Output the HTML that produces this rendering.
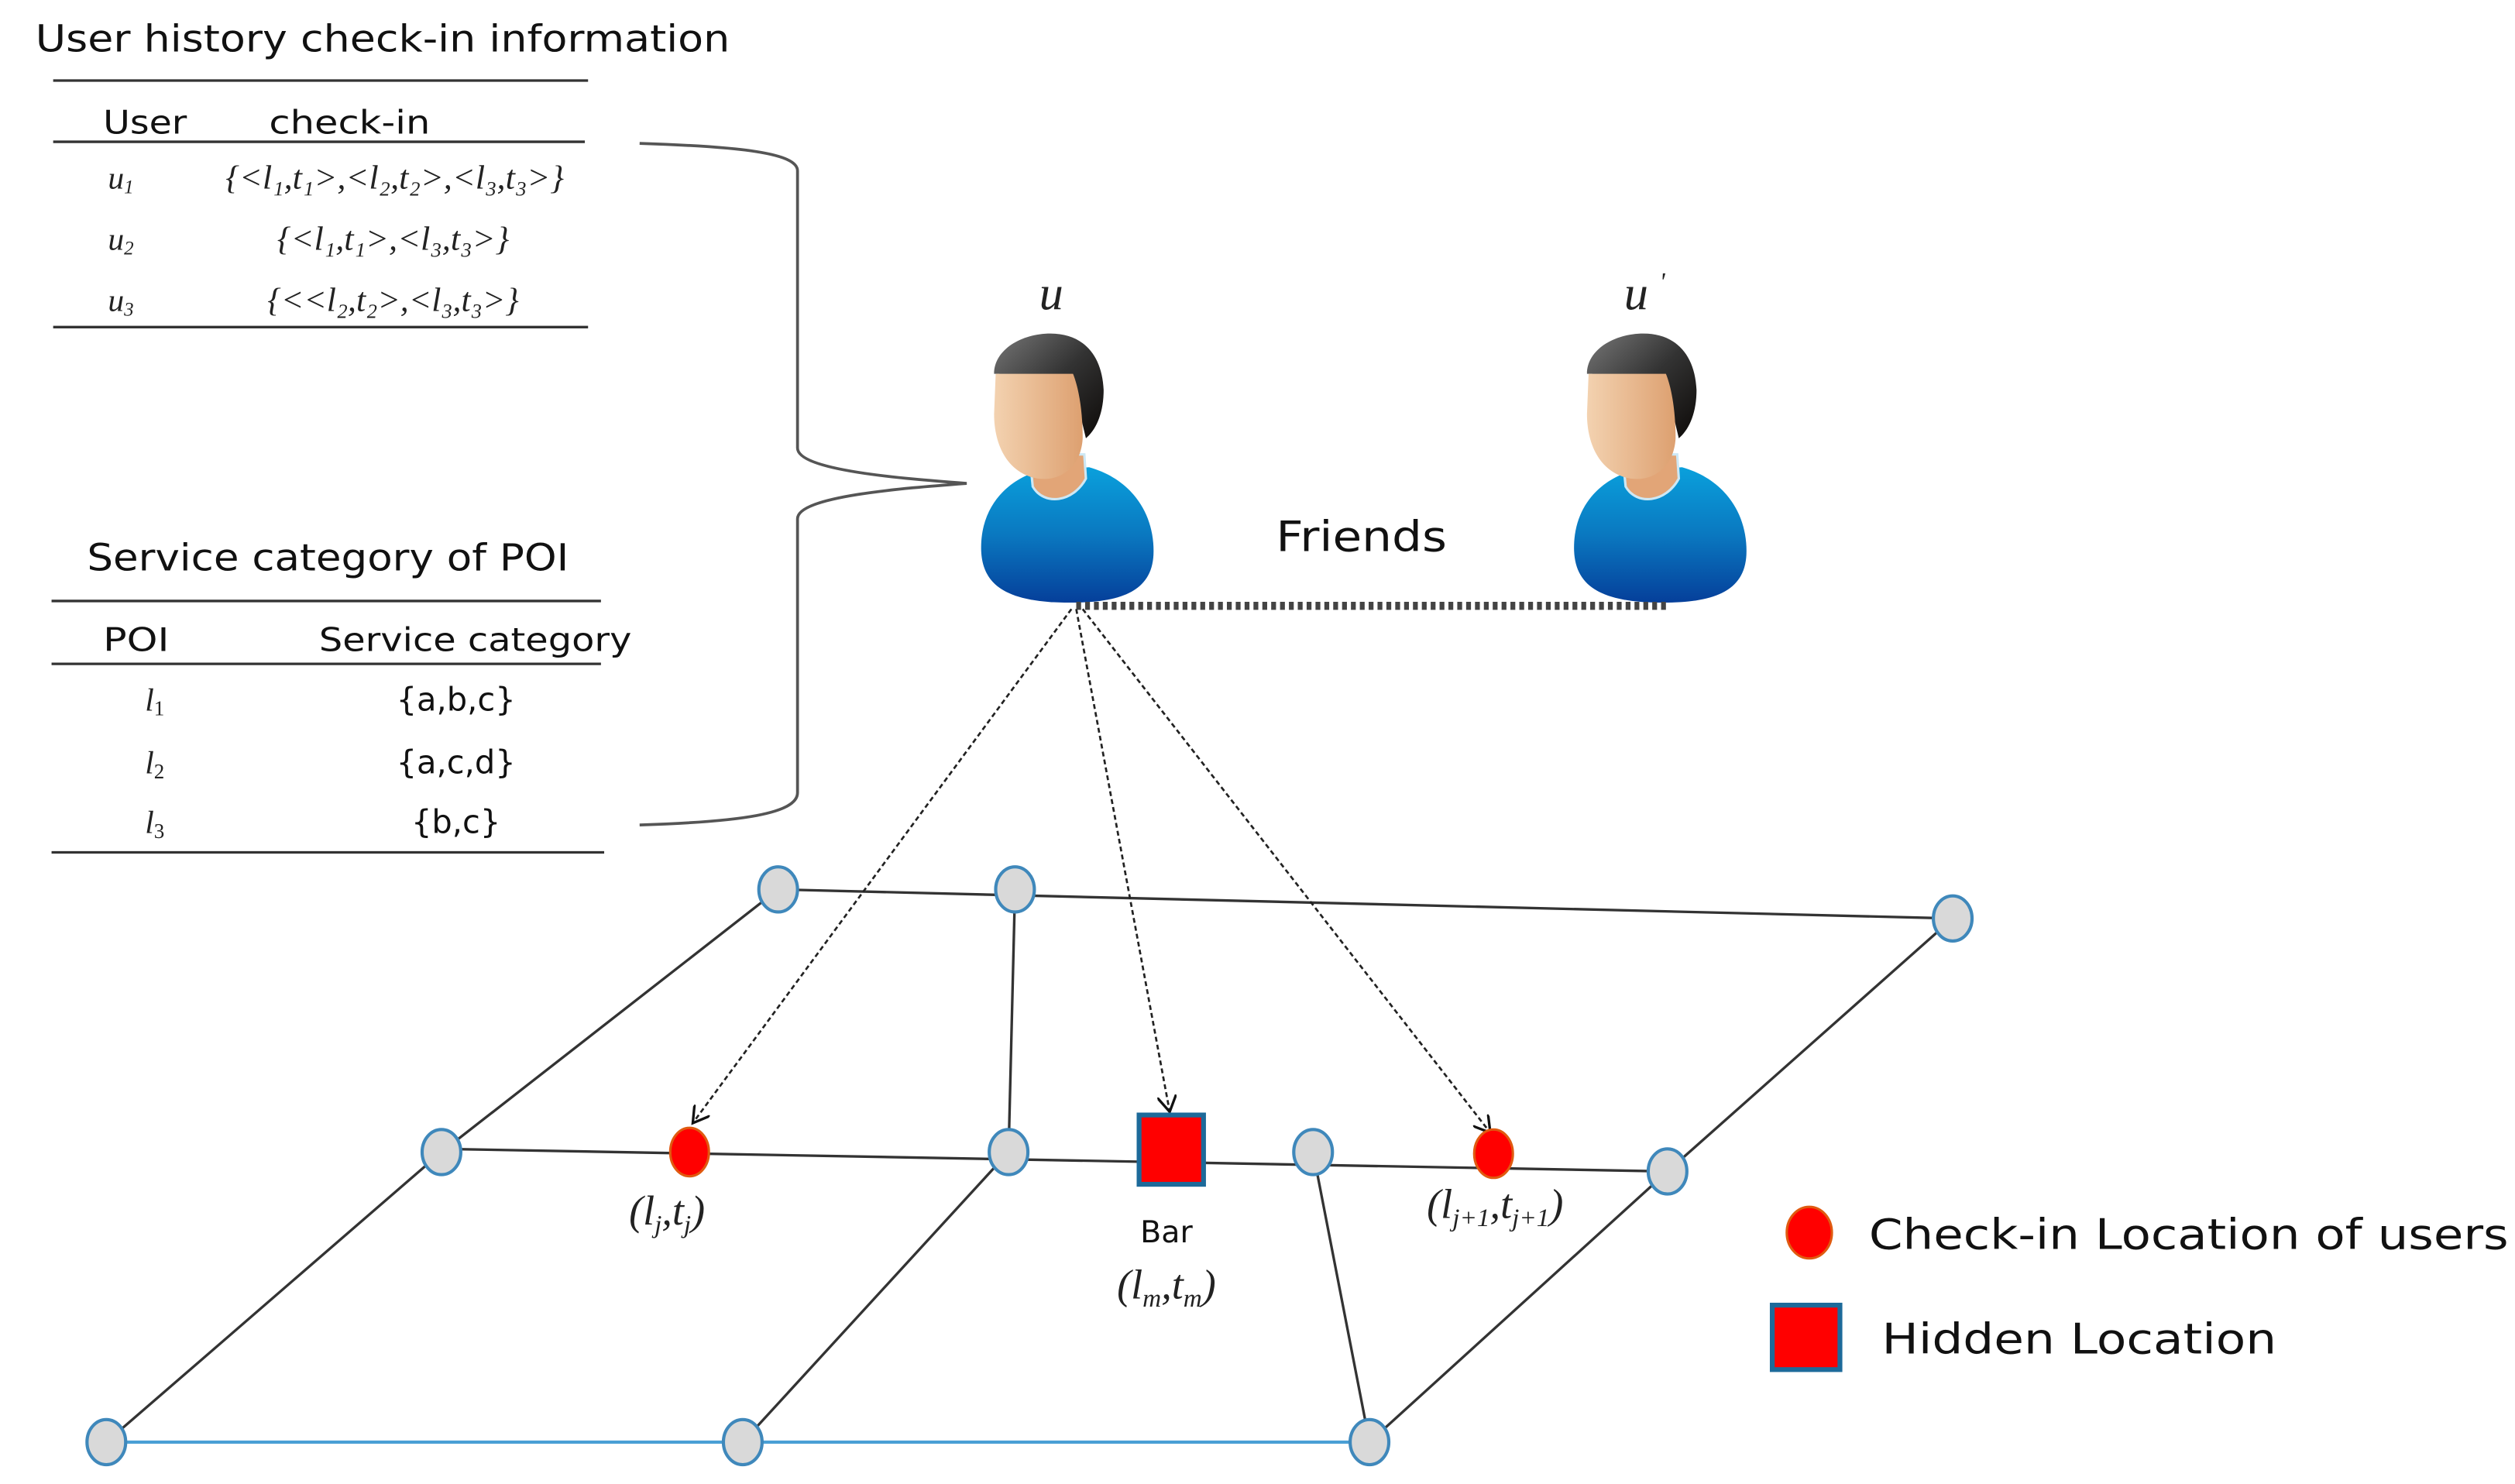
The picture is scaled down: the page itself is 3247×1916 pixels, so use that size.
<!DOCTYPE html>
<html><head><meta charset="utf-8"><style>
html,body{margin:0;padding:0;background:#fff;}
svg{display:block}
.s{font-family:"DejaVu Sans","Liberation Sans",sans-serif;fill:#111}
.m{font-family:"Liberation Serif",serif;font-style:italic;fill:#222}
</style></head><body>
<svg width="3247" height="1916" viewBox="0 0 1561 921" preserveAspectRatio="none" xmlns="http://www.w3.org/2000/svg">
<defs>
<linearGradient id="face" x1="0" x2="1" y1="0" y2="0"><stop offset="0" stop-color="#f3d2b0"/><stop offset="1" stop-color="#dda070"/></linearGradient>
<linearGradient id="hair" x1="0" x2="1" y1="0" y2="1"><stop offset="0" stop-color="#777"/><stop offset="0.5" stop-color="#333"/><stop offset="1" stop-color="#0d0a08"/></linearGradient>
<linearGradient id="body" x1="0" x2="0" y1="0" y2="1"><stop offset="0" stop-color="#0aa0dc"/><stop offset="0.5" stop-color="#0a78c0"/><stop offset="1" stop-color="#053f9a"/></linearGradient>
<g id="person">
<path d="M3,140 C2,112 20,95 40,90 L70,88 C95,95 110,115 110,140 C110,165 90,172 58,172 C20,172 4,162 3,140 Z" fill="url(#body)"/>
<path d="M33,80 L67,80 L68,95 C60,110 42,112 35,100 Z" fill="#e2a577" stroke="#cde8f5" stroke-width="1.5"/>
<path d="M11,30 C11,15 28,5 46,5 C66,5 78,18 79,40 C79,55 74,65 68,70 L62,45 L14,30 Z" fill="url(#hair)"/>
<path d="M12,30 L60,30 C64,40 66,55 66,70 C65,88 52,97 38,95 C20,92 11,75 11,55 Z" fill="url(#face)"/>
</g>
<marker id="ah" markerWidth="12" markerHeight="12" refX="10" refY="6" orient="auto" markerUnits="userSpaceOnUse"><path d="M0,0 L10,6 L0,12" fill="none" stroke="#111" stroke-width="1.6"/></marker>
</defs>

<!-- table 1 -->
<text x="22" y="32" class="s" font-size="23" textLength="431" lengthAdjust="spacingAndGlyphs">User history check-in information</text>
<line x1="33" y1="50" x2="365" y2="50" stroke="#333" stroke-width="1.6"/>
<text x="64" y="83" class="s" font-size="20" textLength="52" lengthAdjust="spacingAndGlyphs">User</text>
<text x="167" y="83" class="s" font-size="20" textLength="100" lengthAdjust="spacingAndGlyphs">check-in</text>
<line x1="33" y1="88" x2="363" y2="88" stroke="#333" stroke-width="1.6"/>
<text x="67" y="117" class="m" font-size="20">u<tspan font-size="12" dy="3">1</tspan></text>
<text x="67" y="155" class="m" font-size="20">u<tspan font-size="12" dy="3">2</tspan></text>
<text x="67" y="193" class="m" font-size="20">u<tspan font-size="12" dy="3">3</tspan></text>
<text x="140" y="117" class="m" font-size="21" font-style="normal" textLength="210" lengthAdjust="spacingAndGlyphs">{&lt;<tspan font-style="italic">l</tspan>₁,<tspan font-style="italic">t</tspan>₁&gt;,&lt;<tspan font-style="italic">l</tspan>₂,<tspan font-style="italic">t</tspan>₂&gt;,&lt;<tspan font-style="italic">l</tspan>₃,<tspan font-style="italic">t</tspan>₃&gt;}</text>
<text x="172" y="155" class="m" font-size="21" font-style="normal" textLength="144" lengthAdjust="spacingAndGlyphs">{&lt;<tspan font-style="italic">l</tspan>₁,<tspan font-style="italic">t</tspan>₁&gt;,&lt;<tspan font-style="italic">l</tspan>₃,<tspan font-style="italic">t</tspan>₃&gt;}</text>
<text x="166" y="193" class="m" font-size="21" font-style="normal" textLength="156" lengthAdjust="spacingAndGlyphs">{&lt;&lt;<tspan font-style="italic">l</tspan>₂,<tspan font-style="italic">t</tspan>₂&gt;,&lt;<tspan font-style="italic">l</tspan>₃,<tspan font-style="italic">t</tspan>₃&gt;}</text>
<line x1="33" y1="203" x2="365" y2="203" stroke="#333" stroke-width="1.6"/>

<!-- table 2 -->
<text x="54" y="354" class="s" font-size="23" textLength="299" lengthAdjust="spacingAndGlyphs">Service category of POI</text>
<line x1="32" y1="373" x2="373" y2="373" stroke="#333" stroke-width="1.6"/>
<text x="64" y="404" class="s" font-size="20" textLength="41" lengthAdjust="spacingAndGlyphs">POI</text>
<text x="198" y="404" class="s" font-size="20" textLength="194" lengthAdjust="spacingAndGlyphs">Service category</text>
<line x1="32" y1="412" x2="373" y2="412" stroke="#333" stroke-width="1.6"/>
<text x="90" y="441" class="m" font-size="20">l<tspan font-size="13" dy="3" font-style="normal">1</tspan></text>
<text x="90" y="480" class="m" font-size="20">l<tspan font-size="13" dy="3" font-style="normal">2</tspan></text>
<text x="90" y="517" class="m" font-size="20">l<tspan font-size="13" dy="3" font-style="normal">3</tspan></text>
<text x="283" y="441" class="s" font-size="20" text-anchor="middle">{a,b,c}</text>
<text x="283" y="480" class="s" font-size="20" text-anchor="middle">{a,c,d}</text>
<text x="283" y="517" class="s" font-size="20" text-anchor="middle">{b,c}</text>
<line x1="32" y1="529" x2="375" y2="529" stroke="#333" stroke-width="1.6"/>

<!-- brace -->
<path d="M397,89 C460,91 495,95 495,106 L495,278 C495,292 560,297 600,300 C560,303 495,308 495,322 L495,492 C495,505 460,510 397,512" fill="none" stroke="#555" stroke-width="1.8"/>

<!-- persons -->
<text x="645" y="192" class="m" font-size="30">u</text>
<text x="1008" y="192" class="m" font-size="30">u</text>
<text x="1030" y="180" class="m" font-size="16">'</text>
<use href="#person" x="606" y="202"/>
<use href="#person" x="974" y="202"/>
<text x="792" y="342" class="s" font-size="26" textLength="106" lengthAdjust="spacingAndGlyphs">Friends</text>
<line x1="668" y1="376" x2="1035" y2="376" stroke="#444" stroke-width="5" stroke-dasharray="3,2.5"/>

<!-- grid lines -->
<g stroke="#333" stroke-width="1.6" fill="none">
<line x1="483" y1="552" x2="1212" y2="570"/>
<line x1="274" y1="713" x2="1035" y2="727"/>
<line x1="483" y1="552" x2="274" y2="715"/>
<line x1="274" y1="715" x2="66" y2="895"/>
<line x1="630" y1="552" x2="626" y2="715"/>
<line x1="626" y1="715" x2="461" y2="895"/>
<line x1="815" y1="715" x2="850" y2="895"/>
<line x1="1212" y1="570" x2="1035" y2="727"/>
<line x1="1035" y1="727" x2="850" y2="895"/>
</g>
<line x1="66" y1="895" x2="850" y2="895" stroke="#4a9fd5" stroke-width="2"/>

<!-- arrows -->
<g stroke="#222" stroke-width="1.3" stroke-dasharray="3,2" fill="none" marker-end="url(#ah)">
<line x1="665" y1="378" x2="430" y2="697"/>
<line x1="668" y1="378" x2="726" y2="690"/>
<line x1="672" y1="378" x2="925" y2="703"/>
</g>

<!-- nodes -->
<g fill="#d9d9d9" stroke="#3f88bb" stroke-width="2">
<ellipse cx="483" cy="552" rx="12" ry="14"/>
<ellipse cx="630" cy="552" rx="12" ry="14"/>
<ellipse cx="1212" cy="570" rx="12" ry="14"/>
<ellipse cx="274" cy="715" rx="12" ry="14"/>
<ellipse cx="626" cy="715" rx="12" ry="14"/>
<ellipse cx="815" cy="715" rx="12" ry="14"/>
<ellipse cx="1035" cy="727" rx="12" ry="14"/>
<ellipse cx="66" cy="895" rx="12" ry="14"/>
<ellipse cx="461" cy="895" rx="12" ry="14"/>
<ellipse cx="850" cy="895" rx="12" ry="14"/>
</g>
<ellipse cx="428" cy="715" rx="12" ry="15" fill="#f00" stroke="#e05a10" stroke-width="1.5"/>
<ellipse cx="927" cy="716" rx="12" ry="15" fill="#f00" stroke="#e05a10" stroke-width="1.5"/>
<rect x="707" y="692" width="40" height="43" fill="#f00" stroke="#1d6a9a" stroke-width="3"/>

<!-- labels -->
<text x="414" y="760" class="m" font-size="26" text-anchor="middle">(l<tspan font-size="16" dy="5">j</tspan><tspan dy="-5">,t</tspan><tspan font-size="16" dy="5">j</tspan><tspan dy="-5">)</tspan></text>
<text x="724" y="771" class="s" font-size="19" text-anchor="middle">Bar</text>
<text x="724" y="806" class="m" font-size="26" text-anchor="middle">(l<tspan font-size="16" dy="5">m</tspan><tspan dy="-5">,t</tspan><tspan font-size="16" dy="5">m</tspan><tspan dy="-5">)</tspan></text>
<text x="928" y="756" class="m" font-size="26" text-anchor="middle">(l<tspan font-size="16" dy="5">j+1</tspan><tspan dy="-5">,t</tspan><tspan font-size="16" dy="5">j+1</tspan><tspan dy="-5">)</tspan></text>

<!-- legend -->
<ellipse cx="1123" cy="765" rx="14" ry="16" fill="#f00" stroke="#e05a10" stroke-width="1.5"/>
<text x="1160" y="775" class="s" font-size="26" textLength="397" lengthAdjust="spacingAndGlyphs">Check-in Location of users</text>
<rect x="1100" y="810" width="42" height="40" fill="#f00" stroke="#1d6a9a" stroke-width="3"/>
<text x="1168" y="840" class="s" font-size="26" textLength="245" lengthAdjust="spacingAndGlyphs">Hidden Location</text>
</svg>
</body></html>
